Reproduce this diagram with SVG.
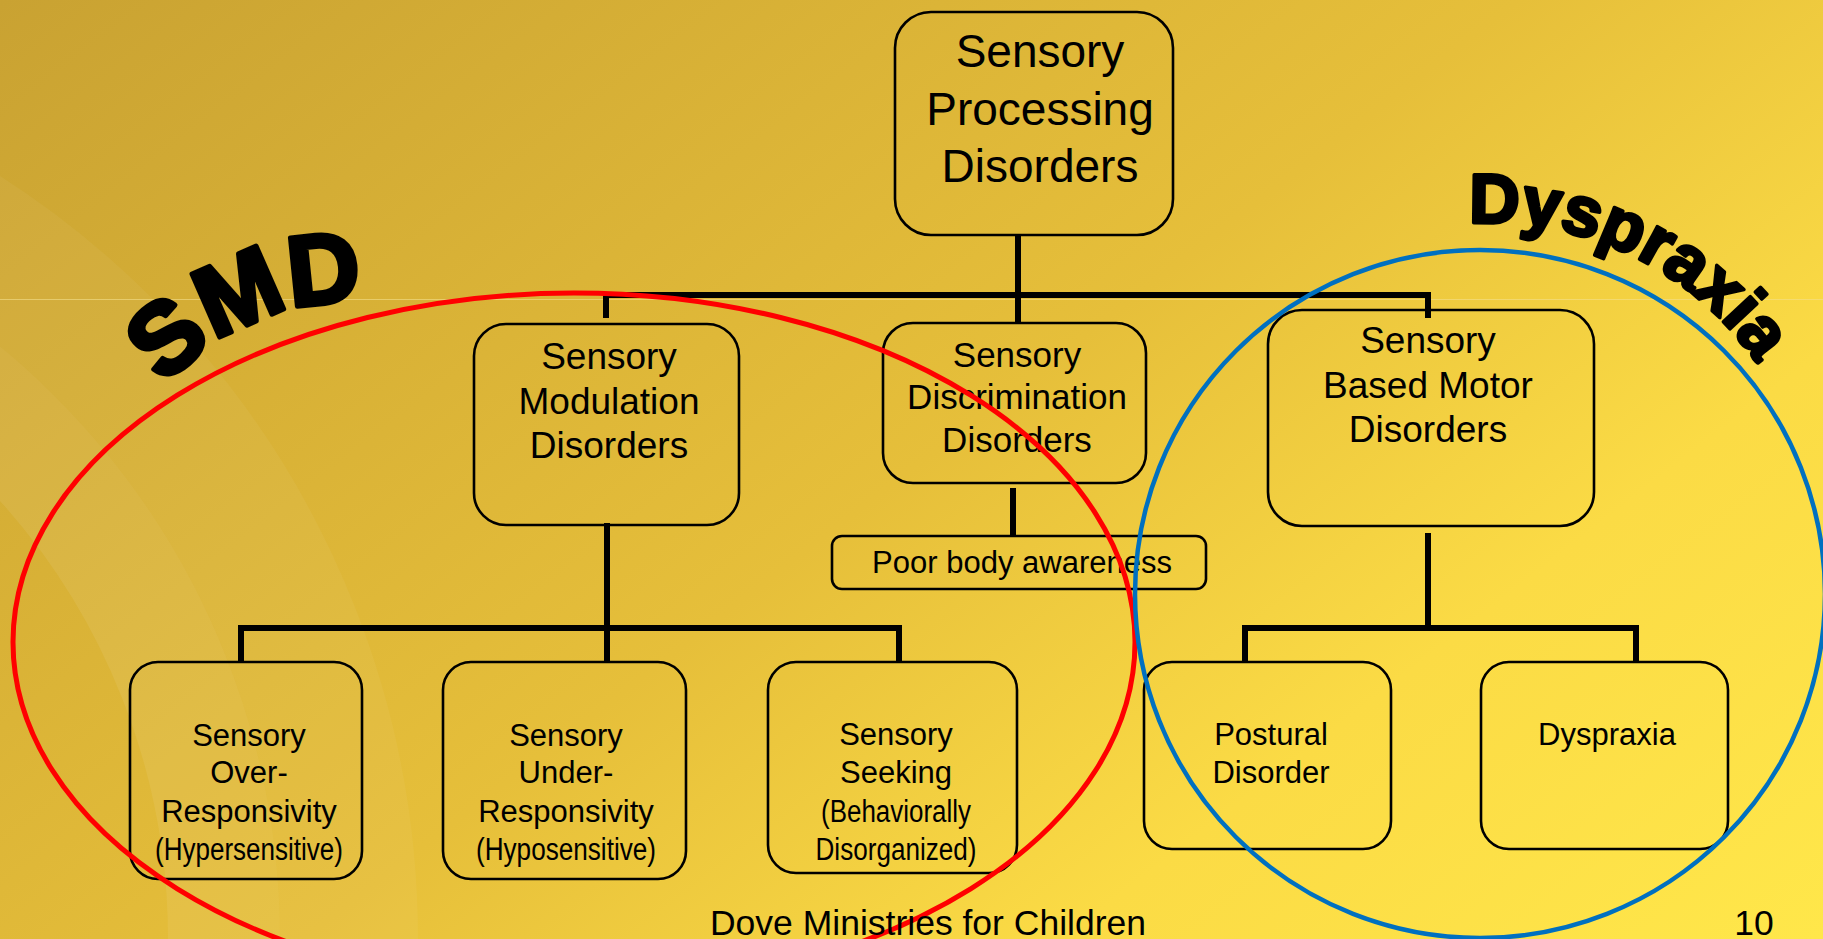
<svg xmlns="http://www.w3.org/2000/svg" width="1823" height="939" viewBox="0 0 1823 939">
<defs>
<linearGradient id="bg" gradientUnits="userSpaceOnUse" x1="0" y1="0" x2="1136" y2="1470">
<stop offset="0" stop-color="#C9A232"/>
<stop offset="0.5" stop-color="#E6BF3A"/>
<stop offset="0.75" stop-color="#FBDB45"/>
<stop offset="1" stop-color="#FFE74A"/>
</linearGradient>
<path id="smdArc" d="M 164.8 386.3 A 250 250 0 0 1 477 335.5"/>
<path id="dysArc" d="M 1469.1 223.7 A 322 322 0 0 1 1808.1 489.1"/>
<style>
.box{fill:none;stroke:#000;stroke-width:2.6}
.t{font-family:"Liberation Sans",Arial,sans-serif;fill:#000;text-anchor:middle}
.conn{stroke:#000;stroke-width:6;fill:none}
.big{font-family:"Liberation Sans",Arial,sans-serif;font-weight:bold;fill:#000;stroke:#000;stroke-linejoin:round}
</style>
</defs>
<rect x="0" y="0" width="1823" height="939" fill="url(#bg)"/>
<circle cx="-487" cy="939" r="836" fill="none" stroke="#FFFFFF" stroke-opacity="0.045" stroke-width="138"/>
<circle cx="-487" cy="939" r="711" fill="none" stroke="#FFFFFF" stroke-opacity="0.07" stroke-width="112"/>
<line x1="0" y1="299.5" x2="1823" y2="299.5" stroke="#F3E08E" stroke-opacity="0.6" stroke-width="1"/>

<g id="connectors">
<line class="conn" x1="1018" y1="235" x2="1018" y2="323"/>
<polyline class="conn" points="606,318 606,295 1428,295 1428,318"/>
<line class="conn" x1="1013" y1="488" x2="1013" y2="536"/>
<line class="conn" x1="607" y1="523" x2="607" y2="662"/>
<polyline class="conn" points="241,662 241,628 899,628 899,662"/>
<line class="conn" x1="1428" y1="533" x2="1428" y2="628"/>
<polyline class="conn" points="1245,662 1245,628 1636,628 1636,662"/>
</g>

<g id="node-spd">
<rect class="box" x="895" y="12" width="278" height="223" rx="36"/>
<text class="t" font-size="46" x="1040" y="67">Sensory</text>
<text class="t" font-size="46" x="1040" y="125">Processing</text>
<text class="t" font-size="46" x="1040" y="182">Disorders</text>
</g>

<g id="node-modulation">
<rect class="box" x="474" y="324" width="265" height="201" rx="32"/>
<text class="t" font-size="37" x="609" y="369">Sensory</text>
<text class="t" font-size="37" x="609" y="414">Modulation</text>
<text class="t" font-size="37" x="609" y="458">Disorders</text>
</g>

<g id="node-discrimination">
<rect class="box" x="883" y="323" width="263" height="160" rx="30"/>
<text class="t" font-size="35" x="1017" y="367">Sensory</text>
<text class="t" font-size="35" x="1017" y="409">Discrimination</text>
<text class="t" font-size="35" x="1017" y="452">Disorders</text>
</g>

<g id="node-motor">
<rect class="box" x="1268" y="310" width="326" height="216" rx="34"/>
<text class="t" font-size="37" x="1428" y="353">Sensory</text>
<text class="t" font-size="37" x="1428" y="398">Based Motor</text>
<text class="t" font-size="37" x="1428" y="442">Disorders</text>
</g>

<g id="node-poorbody">
<rect class="box" x="832" y="536" width="374" height="53" rx="10"/>
<text class="t" font-size="31" x="1022" y="573">Poor body awareness</text>
</g>

<g id="node-over">
<rect class="box" x="130" y="662" width="232" height="217" rx="28"/>
<text class="t" font-size="31" x="249" y="746">Sensory</text>
<text class="t" font-size="31" x="249" y="783">Over-</text>
<text class="t" font-size="31" x="249" y="822">Responsivity</text>
<text class="t" font-size="31" x="249" y="860" textLength="188" lengthAdjust="spacingAndGlyphs">(Hypersensitive)</text>
</g>

<g id="node-under">
<rect class="box" x="443" y="662" width="243" height="217" rx="28"/>
<text class="t" font-size="31" x="566" y="746">Sensory</text>
<text class="t" font-size="31" x="566" y="783">Under-</text>
<text class="t" font-size="31" x="566" y="822">Responsivity</text>
<text class="t" font-size="31" x="566" y="860" textLength="180" lengthAdjust="spacingAndGlyphs">(Hyposensitive)</text>
</g>

<g id="node-seeking">
<rect class="box" x="768" y="662" width="249" height="211" rx="28"/>
<text class="t" font-size="31" x="896" y="745">Sensory</text>
<text class="t" font-size="31" x="896" y="783">Seeking</text>
<text class="t" font-size="31" x="896" y="822" textLength="150" lengthAdjust="spacingAndGlyphs">(Behaviorally</text>
<text class="t" font-size="31" x="896" y="860" textLength="161" lengthAdjust="spacingAndGlyphs">Disorganized)</text>
</g>

<g id="node-postural">
<rect class="box" x="1144" y="662" width="247" height="187" rx="28"/>
<text class="t" font-size="31" x="1271" y="745">Postural</text>
<text class="t" font-size="31" x="1271" y="783">Disorder</text>
</g>

<g id="node-dyspraxia">
<rect class="box" x="1481" y="662" width="247" height="187" rx="28"/>
<text class="t" font-size="31" x="1607" y="745">Dyspraxia</text>
</g>

<g id="smd-group">
<ellipse cx="574" cy="642" rx="561" ry="349" fill="none" stroke="#FF0000" stroke-width="5"/>
<text class="big" font-size="100" stroke-width="5"><textPath href="#smdArc">SMD</textPath></text>
</g>

<g id="dyspraxia-group">
<ellipse cx="1480" cy="594" rx="345" ry="344" fill="none" stroke="#0070C0" stroke-width="4.5"/>
<text class="big" font-size="70" stroke-width="3.5"><textPath href="#dysArc">Dyspraxia</textPath></text>
</g>

<g id="footer">
<text class="t" font-size="35.5" x="928" y="935">Dove Ministries for Children</text>
<text class="t" font-size="35.5" x="1754" y="935">10</text>
</g>
</svg>
